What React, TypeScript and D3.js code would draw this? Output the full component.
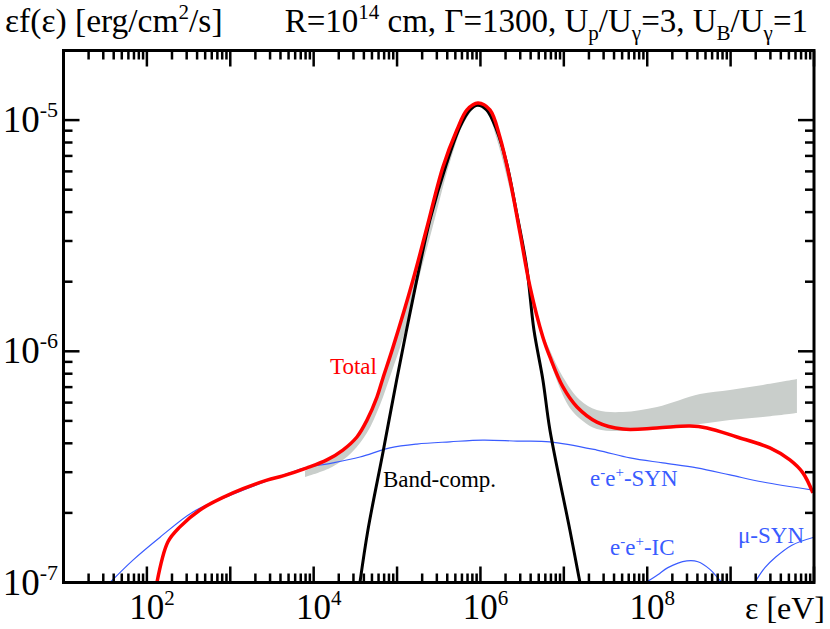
import * as d3 from 'd3';

type Pt = [number, number];

// energy [eV], eF(e) [erg/cm^2/s]
const totalFlux: Pt[] = [
  [132, 1.0e-7], [179, 1.5e-7], [249, 1.74e-7], [433, 2.06e-7], [1077, 2.44e-7],
  [2755, 2.77e-7], [4285, 2.89e-7], [8318, 3.13e-7], [1.44e4, 3.39e-7], [2.24e4, 3.74e-7],
  [3.3e4, 4.26e-7], [4.36e4, 5.04e-7], [5.74e4, 6.34e-7], [6.78e4, 7.67e-7], [8.93e4, 1.04e-6],
  [1.55e5, 2.03e-6], [2.29e5, 3.45e-6], [3.55e5, 6.27e-6], [5.22e5, 9.06e-6], [6.89e5, 1.107e-5],
  [9.33e5, 1.186e-5], [1.3e6, 1.107e-5], [1.71e6, 8.45e-6], [2.26e6, 5.51e-6], [2.98e6, 3.25e-6],
  [3.93e6, 1.9e-6], [5.61e6, 1.15e-6], [6.81e6, 9.45e-7], [9.75e6, 7.01e-7], [1.44e7, 5.74e-7],
  [2.49e7, 4.94e-7], [5.11e7, 4.61e-7], [1.31e8, 4.66e-7], [3.25e8, 4.75e-7], [5.2e8, 4.66e-7],
  [1.19e9, 4.26e-7], [2.96e9, 3.82e-7], [5.14e9, 3.39e-7], [7.36e9, 2.98e-7], [9.7e9, 2.44e-7],
];

const bandComp: Pt[] = [
  [3.59e4, 1.0e-7], [4.48e4, 1.69e-7], [6.78e4, 3.66e-7], [9.89e4, 7.52e-7], [1.72e5, 2.03e-6],
  [2.48e5, 3.7e-6], [3.94e5, 6.52e-6], [5.68e5, 9.35e-6], [7.48e5, 1.107e-5], [9.25e5, 1.16e-5],
  [1.186e6, 1.107e-5], [1.563e6, 9.06e-6], [2.06e6, 6.52e-6], [2.72e6, 3.96e-6], [3.58e6, 2.32e-6],
  [4.38e6, 1.236e-6], [5.61e6, 7.52e-7], [6.81e6, 4.57e-7], [1.18e7, 1.69e-7], [1.56e7, 1.0e-7],
];

const pairSyn: Pt[] = [
  [36.1, 1.0e-7], [68.1, 1.25e-7], [144, 1.57e-7], [357, 2.02e-7], [1077, 2.41e-7],
  [2755, 2.75e-7], [5200, 2.98e-7], [7870, 3.13e-7], [1.7e4, 3.29e-7], [3.59e4, 3.49e-7],
  [8.22e4, 3.82e-7], [1.73e5, 3.97e-7], [4.31e5, 4.06e-7], [1.07e6, 4.13e-7], [2.74e6, 4.09e-7],
  [6.81e6, 4.06e-7], [2.49e7, 3.74e-7], [6.21e7, 3.46e-7], [1.54e8, 3.29e-7], [3.94e8, 3.13e-7],
  [9.82e8, 2.92e-7], [2.44e9, 2.72e-7], [9.7e9, 2.51e-7],
];

const pairIc: Pt[] = [
  [9.64e7, 1.0e-7], [1.34e8, 1.08e-7], [1.77e8, 1.16e-7], [2.99e8, 1.24e-7], [4.06e8, 1.23e-7],
  [5.65e8, 1.14e-7], [7.05e8, 1.045e-7], [7.87e8, 1.0e-7],
];

const muonSyn: Pt[] = [
  [1.95e9, 1.0e-7], [2.58e9, 1.16e-7], [3.4e9, 1.28e-7], [5.43e9, 1.45e-7], [1e10, 1.57e-7],
];

// grey observed band, upper edge left to right, lower edge right to left
const obsUpper: Pt[] = [
  [7870, 3.03e-7], [1.44e4, 3.42e-7], [2.24e4, 3.78e-7], [3.3e4, 4.31e-7], [4.36e4, 5.09e-7],
  [5.74e4, 6.41e-7], [8.93e4, 1.05e-6], [1.55e5, 2.05e-6], [3.55e5, 6.33e-6], [6.89e5, 1.117e-5],
  [9.33e5, 1.175e-5], [1.3e6, 1.117e-5], [2.26e6, 5.51e-6], [3.93e6, 1.9e-6], [5.16e6, 1.3e-6],
  [6.81e6, 1.01e-6], [9.75e6, 7.74e-7], [1.56e7, 6.15e-7], [2.49e7, 5.57e-7], [5.11e7, 5.46e-7],
  [1.31e8, 5.74e-7], [4.29e8, 6.53e-7], [9.82e8, 6.81e-7], [2.44e9, 7.15e-7], [6.24e9, 7.58e-7],
];
const obsLower: Pt[] = [
  [6.24e9, 5.41e-7], [2.44e9, 5.2e-7], [9.82e8, 5.05e-7], [4.29e8, 4.85e-7], [1.31e8, 4.66e-7],
  [5.11e7, 4.52e-7], [2.49e7, 4.61e-7], [1.69e7, 5.0e-7], [1.18e7, 5.69e-7], [8.27e6, 7.45e-7],
  [5.94e6, 1.1e-6], [4.49e6, 1.63e-6], [3.13e6, 2.97e-6], [2.26e6, 4.99e-6], [1.58e6, 8.2e-6],
  [1.2e6, 1.084e-5], [9.33e5, 1.15e-5], [6.52e5, 9.91e-6], [4.31e5, 6.59e-6], [2.69e5, 3.48e-6],
  [1.78e5, 2.0e-6], [1.15e5, 1.11e-6], [8.69e4, 8.22e-7], [6.24e4, 5.86e-7], [4.36e4, 4.44e-7],
  [2.88e4, 3.66e-7], [1.66e4, 3.16e-7], [7870, 2.86e-7],
];

const xDecades = [1, 2, 3, 4, 5, 6, 7, 8, 9, 10];
const xLabelExps = [2, 4, 6, 8];
const yDecades = [-7, -6, -5];
const yLabelExps = [-7, -6, -5];

const RED = '#ff0000';
const BLUE = '#3a5cff';
const GREY = '#c9cecb';
const FONT = '"Liberation Serif", "Times New Roman", serif';

export default function App() {
  const x = d3.scaleLog().domain([1e1, 1e10]).range([63.5, 814]);
  const y = d3.scaleLog().domain([1e-7, 2e-5]).range([582.5, 50.5]);
  const [x0, x1] = x.range();
  const [y0, y1] = y.range();

  const line = d3
    .line<Pt>()
    .x((d) => x(d[0]))
    .y((d) => y(d[1]))
    .curve(d3.curveCatmullRom.alpha(0.5));

  const bandPath =
    (line(obsUpper) || '') + 'L' + (line(obsLower) || '').slice(1) + 'Z';

  const xMajor = xDecades.map((k) => Math.pow(10, k));
  const xMinor: number[] = [];
  xDecades.slice(0, -1).forEach((k) => {
    for (let m = 2; m <= 9; m++) xMinor.push(m * Math.pow(10, k));
  });
  const yMajor = yDecades.map((k) => Math.pow(10, k));
  const yMinor: number[] = [];
  yDecades.forEach((k) => {
    for (let m = 2; m <= 9; m++) {
      const v = m * Math.pow(10, k);
      if (v < 2e-5) yMinor.push(v);
    }
  });

  const majLen = 16;
  const minLen = 9;

  return (
    <svg
      width={830}
      height={629}
      style={{ position: 'absolute', left: 0, top: 0, background: '#fff' }}
      fontFamily={FONT}
    >
      <defs>
        <clipPath id="plot">
          <rect x={x0} y={y1} width={x1 - x0} height={y0 - y1} />
        </clipPath>
      </defs>

      <g clipPath="url(#plot)" fill="none">
        <path d={bandPath} fill={GREY} stroke="none" />
        <path d={line(pairSyn) || ''} stroke={BLUE} strokeWidth={1.2} />
        <path d={line(pairIc) || ''} stroke={BLUE} strokeWidth={1.2} />
        <path d={line(muonSyn) || ''} stroke={BLUE} strokeWidth={1.2} />
        <path d={line(bandComp) || ''} stroke="#000" strokeWidth={3} />
        <path d={line(totalFlux) || ''} stroke={RED} strokeWidth={3.5} />
      </g>

      {/* ticks */}
      <g stroke="#000" strokeWidth={2.5}>
        {xMajor.map((v) => (
          <g key={'xM' + v}>
            <line x1={x(v)} x2={x(v)} y1={y0} y2={y0 - majLen} />
            <line x1={x(v)} x2={x(v)} y1={y1} y2={y1 + majLen} />
          </g>
        ))}
        {xMinor.map((v) => (
          <g key={'xm' + v}>
            <line x1={x(v)} x2={x(v)} y1={y0} y2={y0 - minLen} />
            <line x1={x(v)} x2={x(v)} y1={y1} y2={y1 + minLen} />
          </g>
        ))}
        {yMajor.map((v) => (
          <g key={'yM' + v}>
            <line x1={x0} x2={x0 + majLen} y1={y(v)} y2={y(v)} />
            <line x1={x1} x2={x1 - majLen} y1={y(v)} y2={y(v)} />
          </g>
        ))}
        {yMinor.map((v) => (
          <g key={'ym' + v}>
            <line x1={x0} x2={x0 + minLen} y1={y(v)} y2={y(v)} />
            <line x1={x1} x2={x1 - minLen} y1={y(v)} y2={y(v)} />
          </g>
        ))}
      </g>

      <rect
        x={x0}
        y={y1}
        width={x1 - x0}
        height={y0 - y1}
        fill="none"
        stroke="#000"
        strokeWidth={3}
      />

      {/* tick labels */}
      {xLabelExps.map((k) => (
        <text key={'xl' + k} x={x(Math.pow(10, k)) + 5} y={619} fontSize={35} textAnchor="middle">
          10
          <tspan fontSize={21} dy={-14}>
            {k}
          </tspan>
        </text>
      ))}
      {yLabelExps.map((k) => (
        <text key={'yl' + k} x={58} y={y(Math.pow(10, k)) + 12} fontSize={37} textAnchor="end">
          10
          <tspan fontSize={22} dy={-15}>
            {k}
          </tspan>
        </text>
      ))}

      {/* titles */}
      <text x={5} y={32} fontSize={33.5}>
        εf(ε) [erg/cm
        <tspan fontSize={21} dy={-13}>2</tspan>
        <tspan dy={13}>/s]</tspan>
      </text>
      <text x={808} y={32} fontSize={33} textAnchor="end">
        R=10
        <tspan fontSize={21} dy={-13}>14</tspan>
        <tspan dy={13}> cm, Γ=1300, U</tspan>
        <tspan fontSize={21} dy={8}>p</tspan>
        <tspan dy={-8}>/U</tspan>
        <tspan fontSize={21} dy={8}>γ</tspan>
        <tspan dy={-8}>=3, U</tspan>
        <tspan fontSize={21} dy={8}>B</tspan>
        <tspan dy={-8}>/U</tspan>
        <tspan fontSize={21} dy={8}>γ</tspan>
        <tspan dy={-8}>=1</tspan>
      </text>
      <text x={825} y={619} fontSize={32} textAnchor="end">
        ε [eV]
      </text>

      {/* curve labels */}
      <text x={330} y={374} fontSize={23} fill={RED}>
        Total
      </text>
      <text x={383} y={487} fontSize={23} fill="#000">
        Band-comp.
      </text>
      <text x={590} y={486} fontSize={23} fill={BLUE}>
        e<tspan fontSize={15} dy={-9}>-</tspan>
        <tspan dy={9}>e</tspan>
        <tspan fontSize={15} dy={-9}>+</tspan>
        <tspan dy={9}>-SYN</tspan>
      </text>
      <text x={610} y={555} fontSize={23} fill={BLUE}>
        e<tspan fontSize={15} dy={-9}>-</tspan>
        <tspan dy={9}>e</tspan>
        <tspan fontSize={15} dy={-9}>+</tspan>
        <tspan dy={9}>-IC</tspan>
      </text>
      <text x={738} y={543} fontSize={23} fill={BLUE}>
        μ-SYN
      </text>
    </svg>
  );
}
